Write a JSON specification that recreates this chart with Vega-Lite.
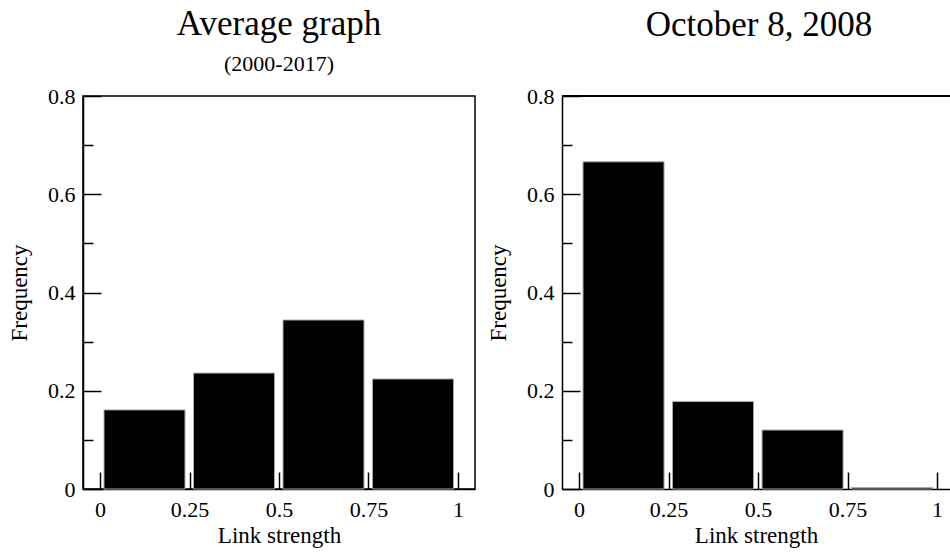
{
  "$schema": "https://vega.github.io/schema/vega-lite/v6.json",
  "background": "white",
  "padding": {"left": 7, "top": 6, "right": 0, "bottom": 0},
  "datasets": {
    "average": [
      {"start": 0, "end": 0.25, "frequency": 0.161},
      {"start": 0.25, "end": 0.5, "frequency": 0.236},
      {"start": 0.5, "end": 0.75, "frequency": 0.344},
      {"start": 0.75, "end": 1, "frequency": 0.224}
    ],
    "oct2008": [
      {"start": 0, "end": 0.25, "frequency": 0.666},
      {"start": 0.25, "end": 0.5, "frequency": 0.178},
      {"start": 0.5, "end": 0.75, "frequency": 0.12},
      {"start": 0.75, "end": 1, "frequency": 0.003}
    ]
  },
  "spacing": 87,
  "bounds": "flush",
  "hconcat": [
    {
      "title": {"text": "Average graph", "subtitle": "(2000-2017)", "offset": 10},
      "width": 392,
      "height": 393,
      "data": {"name": "average"},
      "view": {"stroke": "black", "strokeWidth": 1.5},
      "layer": [
        {
          "mark": {"type": "bar", "fill": "black", "stroke": "#aaaaaa", "strokeWidth": 1, "xOffset": 4, "x2Offset": -4.5},
          "encoding": {
            "x": {
              "field": "start",
              "type": "quantitative",
              "scale": {"domain": [-0.0475, 1.0475], "nice": false, "zero": false},
              "axis": {"title": "Link strength", "values": [0, 0.25, 0.5, 0.75, 1], "format": ".2~f", "tickSize": -17, "labelPadding": 27, "titlePadding": 4, "labelOverlap": false}
            },
            "x2": {"field": "end"},
            "y": {
              "field": "frequency",
              "type": "quantitative",
              "scale": {"domain": [0, 0.8], "nice": false},
              "axis": {
                "title": "Frequency",
                "values": [0, 0.1, 0.2, 0.3, 0.4, 0.5, 0.6, 0.7, 0.8],
                "format": ".1~f",
                "labelExpr": "round(datum.value * 10) % 2 == 1 ? '' : datum.label",
                "tickSize": {"condition": {"test": "round(datum.value * 10) % 2 == 1", "value": -10}, "value": -18},
                "labelPadding": 26,
                "titlePadding": 16,
                "labelOverlap": false
              }
            },
            "y2": {"datum": 0}
          }
        }
      ]
    },
    {
      "title": {"text": "October 8, 2008", "offset": 42, "dx": 3},
      "width": 388,
      "height": 393,
      "data": {"name": "oct2008"},
      "layer": [
        {
          "mark": {"type": "bar", "fill": "black", "stroke": "#aaaaaa", "strokeWidth": 1, "xOffset": 4, "x2Offset": -4.5},
          "encoding": {
            "x": {
              "field": "start",
              "type": "quantitative",
              "scale": {"domain": [-0.0475, 1.036], "nice": false, "zero": false},
              "axis": {"title": "Link strength", "values": [0, 0.25, 0.5, 0.75, 1], "format": ".2~f", "tickSize": -17, "labelPadding": 27, "titlePadding": 4, "labelOverlap": false}
            },
            "x2": {"field": "end"},
            "y": {
              "field": "frequency",
              "type": "quantitative",
              "scale": {"domain": [0, 0.8], "nice": false},
              "axis": {
                "title": "Frequency",
                "values": [0, 0.1, 0.2, 0.3, 0.4, 0.5, 0.6, 0.7, 0.8],
                "format": ".1~f",
                "labelExpr": "round(datum.value * 10) % 2 == 1 ? '' : datum.label",
                "tickSize": {"condition": {"test": "round(datum.value * 10) % 2 == 1", "value": -10}, "value": -18},
                "labelPadding": 26,
                "titlePadding": 16,
                "labelOverlap": false
              }
            },
            "y2": {"datum": 0}
          }
        },
        {
          "mark": {"type": "rule", "color": "black", "strokeWidth": 1.5},
          "encoding": {"y": {"datum": 0.8}}
        }
      ]
    }
  ],
  "config": {
    "font": "Liberation Serif",
    "view": {"stroke": null},
    "axis": {
      "labelFont": "Liberation Serif",
      "titleFont": "Liberation Serif",
      "labelFontSize": 22,
      "titleFontSize": 23,
      "titleFontWeight": "normal",
      "labelColor": "black",
      "titleColor": "black",
      "domainColor": "black",
      "domainWidth": 1.5,
      "tickColor": "black",
      "tickWidth": 1.5,
      "grid": false
    },
    "title": {
      "font": "Liberation Serif",
      "fontSize": 35,
      "fontWeight": "normal",
      "color": "black",
      "subtitleFont": "Liberation Serif",
      "subtitleFontSize": 22,
      "subtitleColor": "black",
      "subtitlePadding": 12,
      "anchor": "middle",
      "frame": "group"
    }
  }
}
